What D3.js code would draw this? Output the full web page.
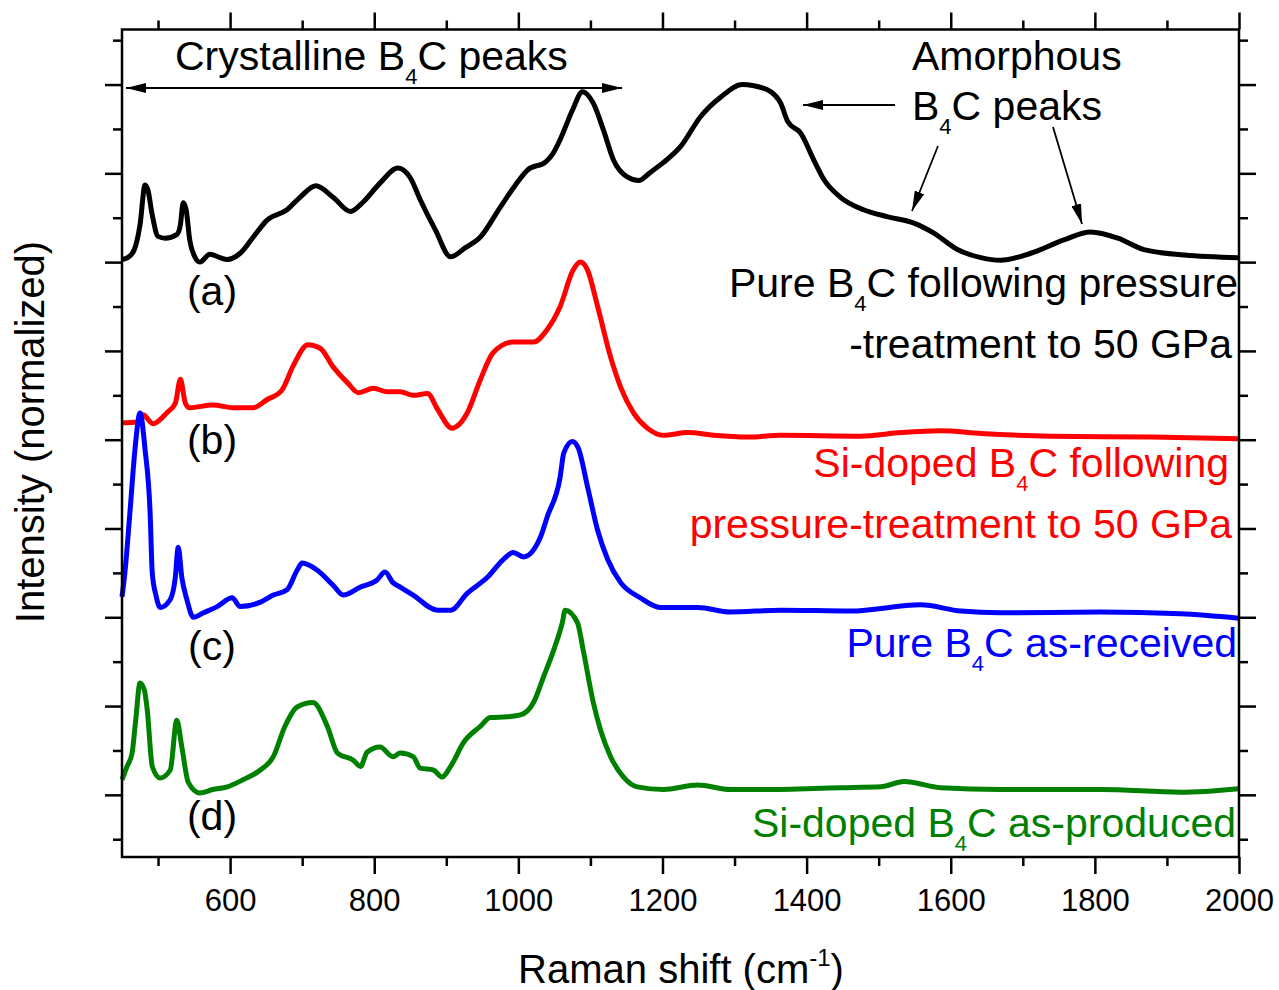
<!DOCTYPE html>
<html>
<head>
<meta charset="utf-8">
<script src="https://cdn.jsdelivr.net/npm/d3@7"></script>
<style>
  html, body { margin: 0; padding: 0; background: #fff; }
  svg { display: block; font-family: "Liberation Sans", Arial, sans-serif; }
</style>
</head>
<body>
<svg id="chart" width="1279" height="990"></svg>
<script>
// ---------------- DATA ----------------
// (a) Pure B4C following pressure-treatment to 50 GPa (offset +6)
const xA = [450,458,467,475,482,486,492,500,510,526,531,535,539,544,551,558,572,586,596,614,632,651,679,697,719,743,767,785,808,833,850,864,885,906,926,947,975,996,1013,1038,1047,1058,1075,1089,1104,1118,1132,1151,1167,1183,1201,1225,1253,1281,1311,1325,1350,1364,1374,1392,1410,1424,1447,1479,1513,1549,1576,1610,1642,1669,1711,1757,1794,1832,1868,1924,2000];
const yA = [6.03,6.05,6.14,6.42,6.87,6.81,6.53,6.29,6.27,6.31,6.42,6.67,6.59,6.25,6.06,6.00,6.09,6.05,6.03,6.10,6.28,6.47,6.59,6.73,6.86,6.73,6.57,6.68,6.89,7.06,6.95,6.70,6.36,6.06,6.16,6.28,6.62,6.87,7.04,7.13,7.21,7.38,7.71,7.92,7.79,7.49,7.15,6.96,6.92,7.01,7.12,7.30,7.64,7.86,8.00,7.99,7.92,7.79,7.58,7.45,7.15,6.93,6.73,6.59,6.51,6.44,6.33,6.14,6.05,6.02,6.10,6.25,6.34,6.27,6.14,6.08,6.05];

// (b) Si-doped B4C following pressure-treatment to 50 GPa (offset +4)
const xB = [450,471,479,493,513,524,531,538,544,576,604,632,651,672,688,708,725,743,763,778,799,818,836,854,874,888,908,929,947,965,993,1021,1040,1058,1076,1086,1096,1110,1128,1142,1160,1179,1201,1235,1271,1318,1364,1475,1531,1586,1642,1739,1878,2000];
const yB = [4.19,4.20,4.28,4.18,4.31,4.41,4.68,4.41,4.36,4.39,4.36,4.36,4.45,4.56,4.84,5.07,5.03,4.82,4.64,4.53,4.58,4.54,4.54,4.50,4.52,4.34,4.13,4.30,4.67,4.98,5.10,5.10,5.24,5.50,5.91,6.00,5.91,5.50,4.93,4.59,4.30,4.13,4.05,4.08,4.05,4.03,4.05,4.04,4.08,4.10,4.07,4.04,4.03,4.01];

// (c) Pure B4C as-received (offset +2)
const xC = [450,454,461,468,475,482,489,492,497,503,517,524,528,533,540,549,563,582,603,614,642,660,679,693,700,721,743,757,781,804,815,826,836,854,888,906,929,957,979,993,1007,1031,1040,1058,1063,1075,1083,1096,1110,1124,1142,1169,1197,1249,1294,1364,1461,1558,1614,1669,1808,1919,2000];
const yC = [2.23,2.50,3.18,3.89,4.30,3.89,3.18,2.50,2.25,2.11,2.20,2.45,2.79,2.45,2.20,2.00,2.05,2.12,2.22,2.12,2.17,2.25,2.31,2.53,2.61,2.53,2.36,2.25,2.34,2.42,2.51,2.39,2.34,2.25,2.08,2.08,2.27,2.45,2.65,2.73,2.68,2.91,3.13,3.58,3.85,3.98,3.91,3.47,2.98,2.65,2.39,2.22,2.11,2.11,2.06,2.08,2.07,2.14,2.07,2.05,2.06,2.04,1.99];

// (d) Si-doped B4C as-produced (offset 0)
const xD = [450,457,464,469,475,481,485,492,503,517,526,533,542,558,576,596,618,642,660,676,693,715,735,749,771,781,790,808,826,836,854,864,882,894,906,924,947,961,985,1003,1021,1035,1049,1061,1065,1082,1090,1104,1114,1128,1146,1165,1201,1249,1294,1340,1447,1503,1535,1586,1669,1808,1919,2000];
const yD = [0.17,0.32,0.47,0.84,1.26,1.18,0.96,0.32,0.19,0.28,0.84,0.54,0.14,0.02,0.06,0.09,0.17,0.28,0.43,0.77,0.99,1.04,0.77,0.47,0.39,0.32,0.48,0.54,0.43,0.47,0.43,0.30,0.28,0.20,0.32,0.59,0.77,0.87,0.88,0.90,1.04,1.33,1.63,1.94,2.08,1.94,1.63,1.04,0.73,0.43,0.20,0.09,0.06,0.11,0.06,0.06,0.08,0.09,0.15,0.08,0.06,0.06,0.03,0.07];

const seriesColors = ["#000000", "#ff0000", "#0000ff", "#008000"];
const panelLabels = ["(a)", "(b)", "(c)", "(d)"];

const xMajorTicks = [600, 800, 1000, 1200, 1400, 1600, 1800, 2000];
const xMinorTicks = [500, 700, 900, 1100, 1300, 1500, 1700, 1900];
const yMajorTicks = [0, 1, 2, 3, 4, 5, 6, 7, 8];
const yMinorTicks = [-0.5, 0.5, 1.5, 2.5, 3.5, 4.5, 5.5, 6.5, 7.5, 8.5];

// ---------------- LAYOUT ----------------
const svg = d3.select("#chart");
const L = 122, R = 1239, T = 29.5, B = 857;
const x = d3.scaleLinear().domain([450, 2000]).range([L, R]);
const y = d3.scaleLinear().domain([-0.7, 8.62]).range([B, T]);

const MAJ = 17, MIN = 9;
const axisStyle = g => {
  g.selectAll(".domain").remove();
  g.selectAll("line").attr("stroke", "#000").attr("stroke-width", 2.5);
  g.selectAll("text").attr("fill", "#000");
};

// bottom axis
svg.append("g").attr("transform", `translate(0,${B})`)
  .call(d3.axisBottom(x).tickValues(xMajorTicks).tickSize(MAJ).tickPadding(10).tickFormat(d3.format("d")))
  .call(axisStyle)
  .call(g => g.selectAll("text").attr("font-size", 31).attr("font-family", "Liberation Sans, Arial, sans-serif").attr("dy", "0").attr("y", 54));
svg.append("g").attr("transform", `translate(0,${B})`)
  .call(d3.axisBottom(x).tickValues(xMinorTicks).tickSize(MIN).tickFormat(""))
  .call(axisStyle);
// top axis
svg.append("g").attr("transform", `translate(0,${T})`)
  .call(d3.axisTop(x).tickValues(xMajorTicks).tickSize(MAJ).tickFormat(""))
  .call(axisStyle);
svg.append("g").attr("transform", `translate(0,${T})`)
  .call(d3.axisTop(x).tickValues(xMinorTicks).tickSize(MIN).tickFormat(""))
  .call(axisStyle);
// left axis
svg.append("g").attr("transform", `translate(${L},0)`)
  .call(d3.axisLeft(y).tickValues(yMajorTicks).tickSize(MAJ).tickFormat(""))
  .call(axisStyle);
svg.append("g").attr("transform", `translate(${L},0)`)
  .call(d3.axisLeft(y).tickValues(yMinorTicks).tickSize(MIN).tickFormat(""))
  .call(axisStyle);
// right axis
svg.append("g").attr("transform", `translate(${R},0)`)
  .call(d3.axisRight(y).tickValues(yMajorTicks).tickSize(MAJ).tickFormat(""))
  .call(axisStyle);
svg.append("g").attr("transform", `translate(${R},0)`)
  .call(d3.axisRight(y).tickValues(yMinorTicks).tickSize(MIN).tickFormat(""))
  .call(axisStyle);

// ---------------- CURVES ----------------
const series = [[xA, yA], [xB, yB], [xC, yC], [xD, yD]];
const line = d3.line().x(d => x(d[0])).y(d => y(d[1])).curve(d3.curveMonotoneX);
series.forEach(([xs, ys], i) => {
  svg.append("path")
    .datum(xs.map((v, j) => [v, ys[j]]))
    .attr("fill", "none")
    .attr("stroke", seriesColors[i])
    .attr("stroke-width", 5)
    .attr("stroke-linejoin", "round")
    .attr("d", line);
});

// frame
svg.append("rect").attr("x", L).attr("y", T).attr("width", R - L).attr("height", B - T)
  .attr("fill", "none").attr("stroke", "#000").attr("stroke-width", 2.5);

// ---------------- TEXT ----------------
const FS = 41, SUB = 22;
function richText(xp, yp, parts, color, anchor) {
  const t = svg.append("text").attr("x", xp).attr("y", yp)
    .attr("font-size", FS).attr("fill", color).attr("text-anchor", anchor || "start");
  parts.forEach(p => {
    if (p.sub) {
      t.append("tspan").attr("font-size", SUB).attr("dy", 14).text(p.sub);
    } else {
      const s = t.append("tspan").text(p.t);
      if (p.dy) s.attr("dy", p.dy);
    }
  });
  return t;
}

richText(175, 70, [{t: "Crystalline B"}, {sub: "4"}, {t: "C peaks", dy: -14}], "#000");
richText(912, 70, [{t: "Amorphous"}], "#000");
richText(912, 120, [{t: "B"}, {sub: "4"}, {t: "C peaks", dy: -14}], "#000");

richText(1238, 297, [{t: "Pure B"}, {sub: "4"}, {t: "C following pressure", dy: -14}], "#000", "end");
richText(1232, 358, [{t: "-treatment to 50 GPa"}], "#000", "end");
richText(1229, 477, [{t: "Si-doped B"}, {sub: "4"}, {t: "C following", dy: -14}], "#ff0000", "end");
richText(1232, 538, [{t: "pressure-treatment to 50 GPa"}], "#ff0000", "end");
richText(1237, 657, [{t: "Pure B"}, {sub: "4"}, {t: "C as-received", dy: -14}], "#0000ff", "end");
richText(1236, 837, [{t: "Si-doped B"}, {sub: "4"}, {t: "C as-produced", dy: -14}], "#008000", "end");

const labelY = [305, 454, 660, 830];
panelLabels.forEach((lab, i) => {
  svg.append("text").attr("x", 212).attr("y", labelY[i]).attr("text-anchor", "middle")
    .attr("font-size", FS).attr("fill", "#000").text(lab);
});

// axis titles
const xt = svg.append("text").attr("x", 681).attr("y", 983).attr("text-anchor", "middle")
  .attr("font-size", 40).attr("fill", "#000");
xt.append("tspan").text("Raman shift (cm");
xt.append("tspan").attr("font-size", 24).attr("dy", -17).text("-1");
xt.append("tspan").attr("dy", 17).text(")");

svg.append("text").attr("transform", "translate(44,432) rotate(-90)").attr("text-anchor", "middle")
  .attr("font-size", 40).attr("fill", "#000").text("Intensity (normalized)");

// ---------------- ARROWS ----------------
const defs = svg.append("defs");
defs.append("marker").attr("id", "ah").attr("viewBox", "0 0 20 10").attr("refX", 20).attr("refY", 5)
  .attr("markerUnits", "userSpaceOnUse").attr("markerWidth", 20).attr("markerHeight", 10)
  .attr("orient", "auto-start-reverse")
  .append("path").attr("d", "M0,0 L20,5 L0,10 Z").attr("fill", "#000");

function arrow(x1, y1, x2, y2, both) {
  const l = svg.append("line").attr("x1", x1).attr("y1", y1).attr("x2", x2).attr("y2", y2)
    .attr("stroke", "#000").attr("stroke-width", 1.8).attr("marker-end", "url(#ah)");
  if (both) l.attr("marker-start", "url(#ah)");
}
arrow(126, 88, 622, 88, true);
arrow(895, 105, 803, 105);
arrow(938, 146, 912, 211);
arrow(1053, 127, 1082, 224);
</script>
</body>
</html>
